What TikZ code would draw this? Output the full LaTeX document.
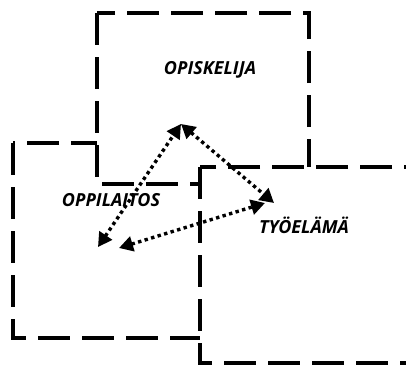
\documentclass[tikz,border=0pt]{standalone}
\usepackage{fontspec}
\setmainfont{Open Sans}
\usetikzlibrary{arrows.meta}
\begin{document}
\begin{tikzpicture}[x=1pt,y=-1pt,
  boxline/.style={line width=3.4pt,dash pattern=on 32pt off 12pt,fill=white},
  lbl/.style={font=\fontsize{18}{20}\selectfont\bfseries\itshape,inner sep=0pt},
  dotarrow/.style={line width=3.4pt,dash pattern=on 3.4pt off 3.4pt,{Triangle[length=14pt,width=15pt]}-{Triangle[length=14pt,width=15pt]}}]
\useasboundingbox (0,0) rectangle (406,367);
\draw[boxline] (13,143) rectangle (215,338);
\draw[boxline] (97,13) rectangle (309,184);
\draw[boxline] (200,167) rectangle (430,363);
\node[lbl] (opi) at (210,70) {OPISKELIJA};
\node[lbl] (opp) at (111,200) {OPPILAITOS};
\node[lbl] (tyo) at (304,225) {TYÖELÄMÄ};
\coordinate (top) at (181,124);
\coordinate (left) at (98,247);
\coordinate (left2) at (119,248);
\coordinate (right) at (274,203);
\coordinate (right2) at (265,203);
\draw[dotarrow] (left) -- (top);
\draw[dotarrow] (top) -- (right);
\draw[dotarrow] (left2) -- (right2);
\end{tikzpicture}
\end{document}
